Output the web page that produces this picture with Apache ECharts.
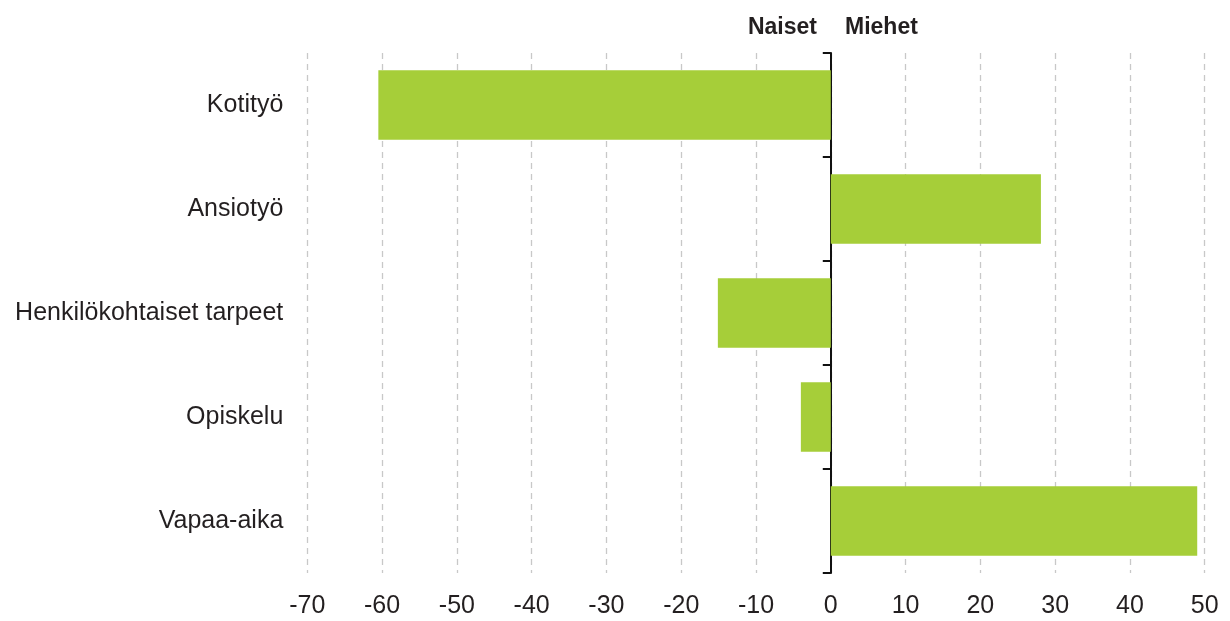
<!DOCTYPE html>
<html>
<head>
<meta charset="utf-8">
<script src="https://cdn.jsdelivr.net/npm/echarts@6/dist/echarts.min.js"></script>
<style>
html,body{margin:0;padding:0;background:#fff;}
#chart{width:1230px;height:621px;}
</style>
</head>
<body>
<div id="chart"></div>
<script>
const categories = ["Kotityö", "Ansiotyö", "Henkilökohtaiset tarpeet", "Opiskelu", "Vapaa-aika"];
const values = [-60.5, 28.1, -15.1, -4.0, 49.0];
const xTicks = [-70, -60, -50, -40, -30, -20, -10, 0, 10, 20, 30, 40, 50];
const sideLabels = ["Naiset", "Miehet"];

const FONT = '"Liberation Sans", Arial, sans-serif';
const TEXT = '#231f20';

const chart = echarts.init(document.getElementById('chart'), null, {renderer: 'canvas'});
chart.setOption({
  backgroundColor: '#ffffff',
  animation: false,
  grid: {left: 307.3, right: 25.3, top: 53, bottom: 48, containLabel: false},
  xAxis: {
    type: 'value',
    min: xTicks[0],
    max: xTicks[xTicks.length - 1],
    interval: 10,
    axisLine: {show: false},
    axisTick: {show: false},
    axisLabel: {color: TEXT, fontSize: 25, fontFamily: FONT, margin: 21},
    splitLine: {show: true, lineStyle: {color: '#c8c8c8', width: 1.3, type: [6, 5]}}
  },
  yAxis: [
    {
      type: 'category',
      data: categories,
      inverse: true,
      position: 'left',
      axisLine: {show: false, onZero: false},
      axisTick: {show: false},
      splitLine: {show: false},
      axisLabel: {color: TEXT, fontSize: 25, fontFamily: FONT, margin: 24}
    },
    {
      type: 'category',
      data: categories,
      inverse: true,
      position: 'right',
      axisLine: {show: true, onZero: true, onZeroAxisIndex: 0, lineStyle: {color: '#111', width: 2}},
      axisTick: {show: true, inside: true, length: 8, lineStyle: {color: '#111', width: 2}},
      axisLabel: {show: false},
      splitLine: {show: false}
    }
  ],
  series: [{
    type: 'bar',
    yAxisIndex: 0,
    data: values,
    barWidth: '67%',
    itemStyle: {color: '#a6ce39'},
    z: 1
  }],
  graphic: [
    {type: 'text', right: 1230 - 817, top: 16, style: {text: sideLabels[0], fill: TEXT, font: 'bold 23px ' + FONT, textAlign: 'right'}},
    {type: 'text', left: 845, top: 16, style: {text: sideLabels[1], fill: TEXT, font: 'bold 23px ' + FONT}}
  ]
});
</script>
</body>
</html>
